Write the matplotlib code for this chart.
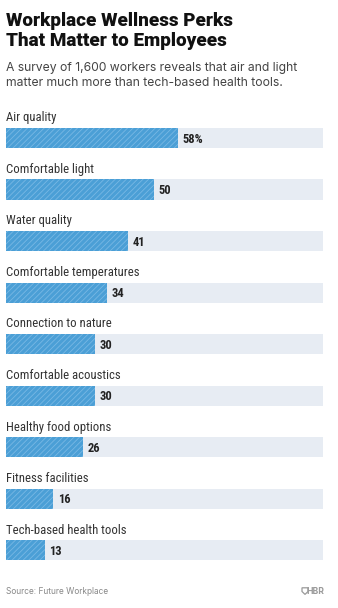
import matplotlib
matplotlib.use("Agg")
import matplotlib.pyplot as plt
from matplotlib import font_manager
from matplotlib.patches import Polygon

categories = [
    "Air quality",
    "Comfortable light",
    "Water quality",
    "Comfortable temperatures",
    "Connection to nature",
    "Comfortable acoustics",
    "Healthy food options",
    "Fitness facilities",
    "Tech-based health tools",
]
values = [58, 50, 41, 34, 30, 30, 26, 16, 13]
value_labels = ["58%", "50", "41", "34", "30", "30", "26", "16", "13"]

title = "Workplace Wellness Perks\nThat Matter to Employees"
subtitle = "A survey of 1,600 workers reveals that air and light\nmatter much more than tech-based health tools."
source = "Source: Future Workplace"


def first_available(names):
    for n in names:
        try:
            font_manager.findfont(font_manager.FontProperties(family=n),
                                  fallback_to_default=False)
            return n
        except Exception:
            continue
    return "DejaVu Sans"


NARROW = first_available(["Liberation Sans Narrow", "Roboto Condensed",
                          "Open Sans Condensed", "Roboto"])

W, H = 338, 608
DPI = 100
BAR_COLOR = "#4b9fd6"
HATCH_COLOR = "#78b8e4"
TRACK_COLOR = "#e7ecf3"
XMAX = 106.8

plt.rcParams["hatch.linewidth"] = 0.6

fig = plt.figure(figsize=(W / DPI, H / DPI), dpi=DPI)
fig.patch.set_facecolor("white")

ax = fig.add_axes([6 / W, 1 - 580 / H, 317 / W, 480 / H])
ax.set_xlim(0, XMAX)
ax.set_ylim(8.58, -0.738)
ax.axis("off")

bar_h = 0.39
for i, (cat, v, lab) in enumerate(zip(categories, values, value_labels)):
    ax.barh(i, XMAX, height=bar_h, color=TRACK_COLOR, linewidth=0)
    ax.barh(i, v, height=bar_h, color=BAR_COLOR, edgecolor=HATCH_COLOR,
            hatch="//////", linewidth=0)
    ax.text(0, i - 0.39, cat, fontsize=9.2, color="#333333",
            family=[NARROW, "DejaVu Sans"], ha="left", va="center")
    ax.text(v + 1.5, i + 0.02, lab, fontsize=9.0, color="#222222",
            family=[NARROW, "DejaVu Sans"], fontweight="bold",
            ha="left", va="center")

# two-line headline, baselines placed explicitly
for k, line in enumerate(title.split("\n")):
    fig.text(6 / W, 1 - (26 + 19.5 * k) / H, line, fontsize=13.6,
             fontweight="black", family=["Roboto", "DejaVu Sans"],
             color="#111111", ha="left", va="baseline")
fig.text(6 / W, 1 - 62 / H, subtitle, fontsize=8.75,
         family=["Inter", "DejaVu Sans"], color="#444444",
         ha="left", va="top", linespacing=1.36)
fig.text(6 / W, 1 - 591 / H, source, fontsize=6.0,
         family=["Inter", "DejaVu Sans"], color="#888888",
         ha="left", va="center")
fig.text(324 / W, 1 - 591 / H, "HBR", fontsize=6.2, fontweight="bold",
         family=["Inter", "DejaVu Sans"], color="#9a9a9a",
         ha="right", va="center")

# small shield emblem before the HBR wordmark
sx, sy = 305.0, 591.0
shield = [(sx - 3, sy - 3.2), (sx + 3, sy - 3.2), (sx + 3, sy + 0.5),
          (sx, sy + 3.4), (sx - 3, sy + 0.5)]
fig.patches.append(Polygon([(x / W, 1 - y / H) for x, y in shield],
                           closed=True, facecolor="none", edgecolor="#9a9a9a",
                           linewidth=0.9, transform=fig.transFigure,
                           figure=fig))

fig.savefig("out.png", dpi=DPI, facecolor="white")
